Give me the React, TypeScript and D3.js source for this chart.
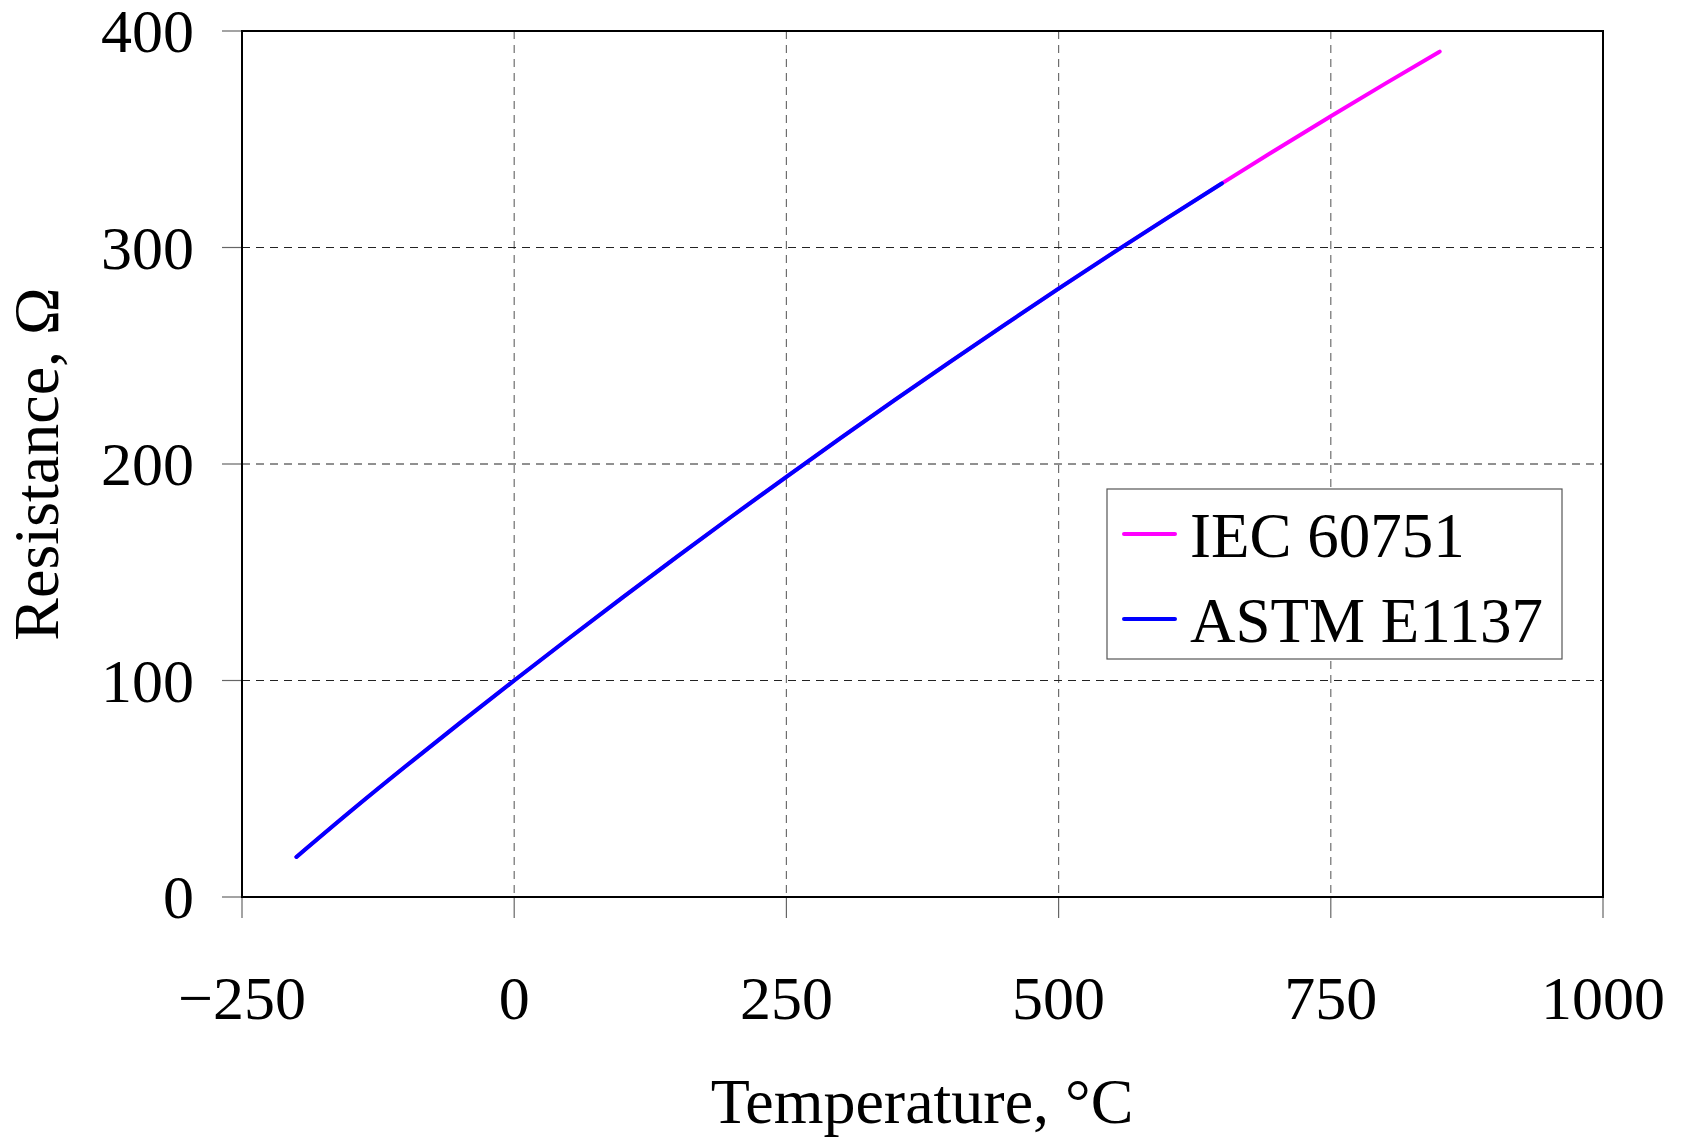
import React, { useEffect, useRef } from "react";
import * as d3 from "d3";

// Pt100 resistance (temperature in °C, resistance in ohm)
const iecTemps = [-200, -150, -100, -50, 0, 50, 100, 150, 200, 250, 300, 350, 400, 450, 500, 550, 600, 650, 700, 750, 800, 850];
const iecRes = [18.52, 39.72, 60.26, 80.31, 100, 119.4, 138.51, 157.33, 175.86, 194.1, 212.05, 229.72, 247.09, 264.18, 280.98, 297.49, 313.71, 329.64, 345.28, 360.64, 375.7, 390.48];
const astmTemps = [-200, -150, -100, -50, 0, 50, 100, 150, 200, 250, 300, 350, 400, 450, 500, 550, 600, 650];
const astmRes = [18.52, 39.72, 60.26, 80.31, 100, 119.4, 138.51, 157.33, 175.86, 194.1, 212.05, 229.72, 247.09, 264.18, 280.98, 297.49, 313.71, 329.64];

const xTicks = [-250, 0, 250, 500, 750, 1000];
const yTicks = [0, 100, 200, 300, 400];
const seriesNames = ["IEC 60751", "ASTM E1137"];
const seriesColors = ["#ff00ff", "#0000ff"];

const FONT = "'Liberation Serif', 'Times New Roman', serif";

export default function App() {
  const ref = useRef<SVGSVGElement>(null);

  useEffect(() => {
    const svg = d3.select(ref.current);
    svg.selectAll("*").remove();

    const left = 242,
      right = 1603,
      top = 31,
      bottom = 897;

    const x = d3.scaleLinear().domain([-250, 1000]).range([left, right]);
    const y = d3.scaleLinear().domain([0, 400]).range([bottom, top]);

    // grid
    svg
      .selectAll(".vgrid")
      .data(xTicks.filter((t) => t > -250 && t < 1000))
      .join("line")
      .attr("x1", (d) => x(d))
      .attr("x2", (d) => x(d))
      .attr("y1", top)
      .attr("y2", bottom)
      .attr("stroke", "#6e6e6e")
      .attr("stroke-width", 1.2)
      .attr("stroke-dasharray", "8,6");
    svg
      .selectAll(".hgrid")
      .data(yTicks.filter((t) => t > 0 && t < 400))
      .join("line")
      .attr("x1", left)
      .attr("x2", right)
      .attr("y1", (d) => y(d))
      .attr("y2", (d) => y(d))
      .attr("stroke", "#222")
      .attr("stroke-width", 1)
      .attr("stroke-dasharray", "8,6");

    // tick marks
    svg
      .selectAll(".xtick")
      .data(xTicks)
      .join("line")
      .attr("x1", (d) => x(d))
      .attr("x2", (d) => x(d))
      .attr("y1", bottom)
      .attr("y2", bottom + 21)
      .attr("stroke", "#666")
      .attr("stroke-width", 1.2);
    svg
      .selectAll(".ytick")
      .data(yTicks)
      .join("line")
      .attr("x1", left - 20)
      .attr("x2", left)
      .attr("y1", (d) => y(d))
      .attr("y2", (d) => y(d))
      .attr("stroke", "#666")
      .attr("stroke-width", 1.2);

    // tick labels
    svg
      .selectAll(".xlab")
      .data(xTicks)
      .join("text")
      .attr("x", (d) => x(d))
      .attr("y", 1019)
      .attr("text-anchor", "middle")
      .style("font-family", FONT)
      .style("font-size", "62px")
      .text((d) => (d < 0 ? "\u2212" + Math.abs(d) : String(d)));
    svg
      .selectAll(".ylab")
      .data(yTicks)
      .join("text")
      .attr("x", 194)
      .attr("y", (d) => y(d) + 21)
      .attr("text-anchor", "end")
      .style("font-family", FONT)
      .style("font-size", "62px")
      .text((d) => String(d));

    // lines
    const line = d3
      .line<[number, number]>()
      .x((d) => x(d[0]))
      .y((d) => y(d[1]))
      .curve(d3.curveMonotoneX);
    const iec = iecTemps.map((t, i) => [t, iecRes[i]] as [number, number]);
    const astm = astmTemps.map((t, i) => [t, astmRes[i]] as [number, number]);
    [iec, astm].forEach((pts, i) => {
      svg
        .append("path")
        .attr("d", line(pts))
        .attr("fill", "none")
        .attr("stroke", seriesColors[i])
        .attr("stroke-width", 4)
        .attr("stroke-linecap", "round")
        .attr("stroke-linejoin", "round");
    });

    // frame
    svg
      .append("rect")
      .attr("x", left)
      .attr("y", top)
      .attr("width", right - left)
      .attr("height", bottom - top)
      .attr("fill", "none")
      .attr("stroke", "#000")
      .attr("stroke-width", 2);

    // legend
    const lg = svg.append("g");
    lg.append("rect")
      .attr("x", 1107)
      .attr("y", 489)
      .attr("width", 455)
      .attr("height", 170)
      .attr("fill", "#fff")
      .attr("stroke", "#555")
      .attr("stroke-width", 1.2);
    seriesNames.forEach((name, i) => {
      const ly = 534 + i * 85;
      lg.append("line")
        .attr("x1", 1124)
        .attr("x2", 1175)
        .attr("y1", ly)
        .attr("y2", ly)
        .attr("stroke", seriesColors[i])
        .attr("stroke-width", 4)
        .attr("stroke-linecap", "round");
      lg.append("text")
        .attr("x", 1190)
        .attr("y", ly + 23)
        .style("font-family", FONT)
        .style("font-size", "63px")
        .text(name);
    });

    // axis titles
    svg
      .append("text")
      .attr("x", 922)
      .attr("y", 1123)
      .attr("text-anchor", "middle")
      .style("font-family", FONT)
      .style("font-size", "64px")
      .text("Temperature, \u00B0C");
    svg
      .append("text")
      .attr("transform", "translate(58, 464) rotate(-90)")
      .attr("text-anchor", "middle")
      .style("font-family", FONT)
      .style("font-size", "64px")
      .text("Resistance, \u03A9");
  }, []);

  return (
    <svg
      ref={ref}
      width={1681}
      height={1139}
      style={{ position: "absolute", left: 0, top: 0, background: "#fff" }}
    />
  );
}
